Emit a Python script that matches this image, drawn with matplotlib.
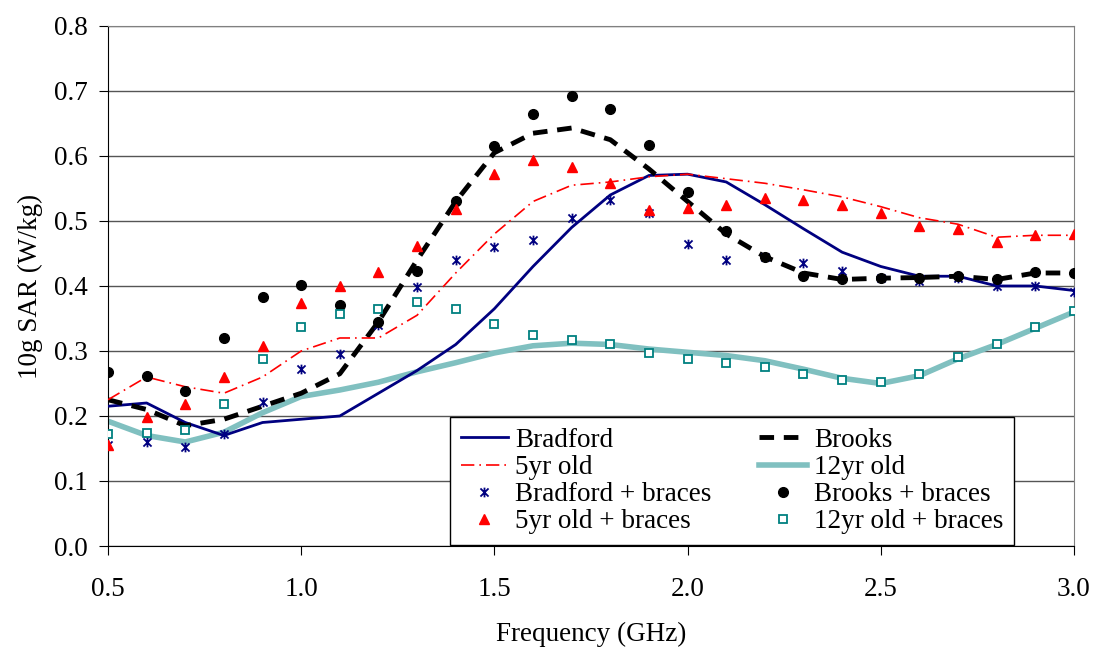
import matplotlib
matplotlib.use("Agg")
import matplotlib.pyplot as plt
from matplotlib.path import Path

plt.rcParams['font.family'] = ['Liberation Serif', 'DejaVu Serif']

# Frequencies (GHz)
freq = [0.5, 0.6, 0.7, 0.8, 0.9, 1.0, 1.1, 1.2, 1.3, 1.4, 1.5, 1.6, 1.7,
        1.8, 1.9, 2.0, 2.1, 2.2, 2.3, 2.4, 2.5, 2.6, 2.7, 2.8, 2.9, 3.0]

# Smoothed curves without braces
bradford = [0.215, 0.220, 0.190, 0.170, 0.190, 0.195, 0.200, 0.235, 0.270, 0.310,
            0.365, 0.430, 0.490, 0.540, 0.570, 0.572, 0.560, 0.525, 0.488, 0.452,
            0.430, 0.415, 0.415, 0.400, 0.400, 0.393]
brooks = [0.225, 0.210, 0.185, 0.195, 0.215, 0.235, 0.265, 0.345, 0.440, 0.530,
          0.605, 0.635, 0.643, 0.625, 0.580, 0.530, 0.480, 0.445, 0.420, 0.410,
          0.412, 0.413, 0.415, 0.410, 0.420, 0.420]
yr5 = [0.225, 0.260, 0.245, 0.235, 0.260, 0.300, 0.320, 0.320, 0.355, 0.420,
       0.480, 0.530, 0.555, 0.560, 0.568, 0.572, 0.565, 0.558, 0.548, 0.537,
       0.522, 0.505, 0.495, 0.475, 0.478, 0.478]
yr12 = [0.192, 0.170, 0.160, 0.175, 0.205, 0.230, 0.240, 0.252, 0.268, 0.282,
        0.297, 0.308, 0.312, 0.310, 0.303, 0.298, 0.293, 0.285, 0.272, 0.258,
        0.250, 0.262, 0.288, 0.310, 0.335, 0.360]

# Points with braces
bradford_b = [0.155, 0.160, 0.152, 0.173, 0.222, 0.272, 0.295, 0.340, 0.398, 0.440,
              0.460, 0.470, 0.505, 0.532, 0.512, 0.465, 0.440, 0.445, 0.435, 0.423,
              0.413, 0.408, 0.413, 0.400, 0.400, 0.390]
brooks_b = [0.267, 0.262, 0.238, 0.320, 0.383, 0.402, 0.370, 0.345, 0.423, 0.530,
            0.616, 0.665, 0.692, 0.673, 0.617, 0.545, 0.485, 0.445, 0.416, 0.410,
            0.412, 0.412, 0.415, 0.410, 0.422, 0.420]
yr5_b = [0.155, 0.198, 0.218, 0.260, 0.307, 0.374, 0.400, 0.422, 0.462, 0.518,
         0.572, 0.594, 0.583, 0.558, 0.517, 0.520, 0.525, 0.535, 0.532, 0.525,
         0.512, 0.492, 0.488, 0.468, 0.478, 0.480]
yr12_b = [0.172, 0.174, 0.178, 0.218, 0.288, 0.337, 0.357, 0.364, 0.376, 0.365,
          0.342, 0.325, 0.317, 0.311, 0.297, 0.287, 0.282, 0.275, 0.265, 0.256,
          0.252, 0.264, 0.290, 0.310, 0.337, 0.362]

x_ticks = [0.5, 1.0, 1.5, 2.0, 2.5, 3.0]
x_labels = ['0.5', '1.0', '1.5', '2.0', '2.5', '3.0']
y_ticks = [0.0, 0.1, 0.2, 0.3, 0.4, 0.5, 0.6, 0.7, 0.8]
y_labels = ['0.0', '0.1', '0.2', '0.3', '0.4', '0.5', '0.6', '0.7', '0.8']

FS = 19.5

# Excel style star: X with a vertical bar
star = Path([(-1, -1), (1, 1), (-1, 1), (1, -1), (0, -1.2), (0, 1.2)],
            [Path.MOVETO, Path.LINETO, Path.MOVETO, Path.LINETO, Path.MOVETO, Path.LINETO])

fig = plt.figure(figsize=(10.94, 6.49), dpi=100)
ax = fig.add_axes([0.0987, 0.1587, 0.8830, 0.8013])

ax.grid(axis='y', color='#555555', lw=1.0)
ax.set_axisbelow(True)

l1, = ax.plot(freq, bradford, color='#000080', lw=2.0, label='Bradford', zorder=3)
l2, = ax.plot(freq, brooks, color='black', lw=3.5, dashes=(3, 2), label='Brooks', zorder=3)
l3, = ax.plot(freq, yr5, color='red', lw=1.2, dashes=(8, 3, 1, 3), label='5yr old', zorder=3)
l4, = ax.plot(freq, yr12, color='#80C0C0', lw=4.0, label='12yr old', zorder=2)

m1, = ax.plot(freq, bradford_b, ls='none', marker=star, ms=7, mec='#000080', mew=1.3,
              mfc='none', label='Bradford + braces', zorder=4)
m2, = ax.plot(freq, brooks_b, ls='none', marker='o', ms=7, color='black',
              label='Brooks + braces', zorder=4)
m3, = ax.plot(freq, yr5_b, ls='none', marker='^', ms=7.5, color='red',
              label='5yr old + braces', zorder=4)
m4, = ax.plot(freq, yr12_b, ls='none', marker='s', ms=5.8, mfc='white', mec='#008080',
              mew=1.3, label='12yr old + braces', zorder=4)

ax.set_xlim(0.5, 3.0)
ax.set_ylim(0.0, 0.8)
ax.set_xticks(x_ticks)
ax.set_xticklabels(x_labels)
ax.set_yticks(y_ticks)
ax.set_yticklabels(y_labels)
ax.tick_params(axis='y', direction='out', length=6.5, pad=8, labelsize=FS)
ax.tick_params(axis='x', direction='out', length=6.5, pad=16, labelsize=FS)

for s in ['left', 'bottom']:
    ax.spines[s].set_color('black')
for s in ['top', 'right']:
    ax.spines[s].set_color('#808080')

ax.set_xlabel('Frequency (GHz)', fontsize=FS, labelpad=14)
ax.set_ylabel('10g SAR (W/kg)', fontsize=FS, labelpad=8)

leg = ax.legend([l1, l3, m1, m3, l2, l4, m2, m4],
                ['Bradford', '5yr old', 'Bradford + braces', '5yr old + braces',
                 'Brooks', '12yr old', 'Brooks + braces', '12yr old + braces'],
                ncol=2, loc='upper left', bbox_to_anchor=(0.354, 0.248),
                fontsize=FS, frameon=True, fancybox=False,
                edgecolor='black', framealpha=1, borderpad=0.4, labelspacing=0.08,
                handlelength=1.75, handletextpad=0.27, borderaxespad=0, columnspacing=1.75)
leg.get_frame().set_linewidth(1.0)
leg.set_zorder(5)

fig.savefig('out.png', dpi=100)
